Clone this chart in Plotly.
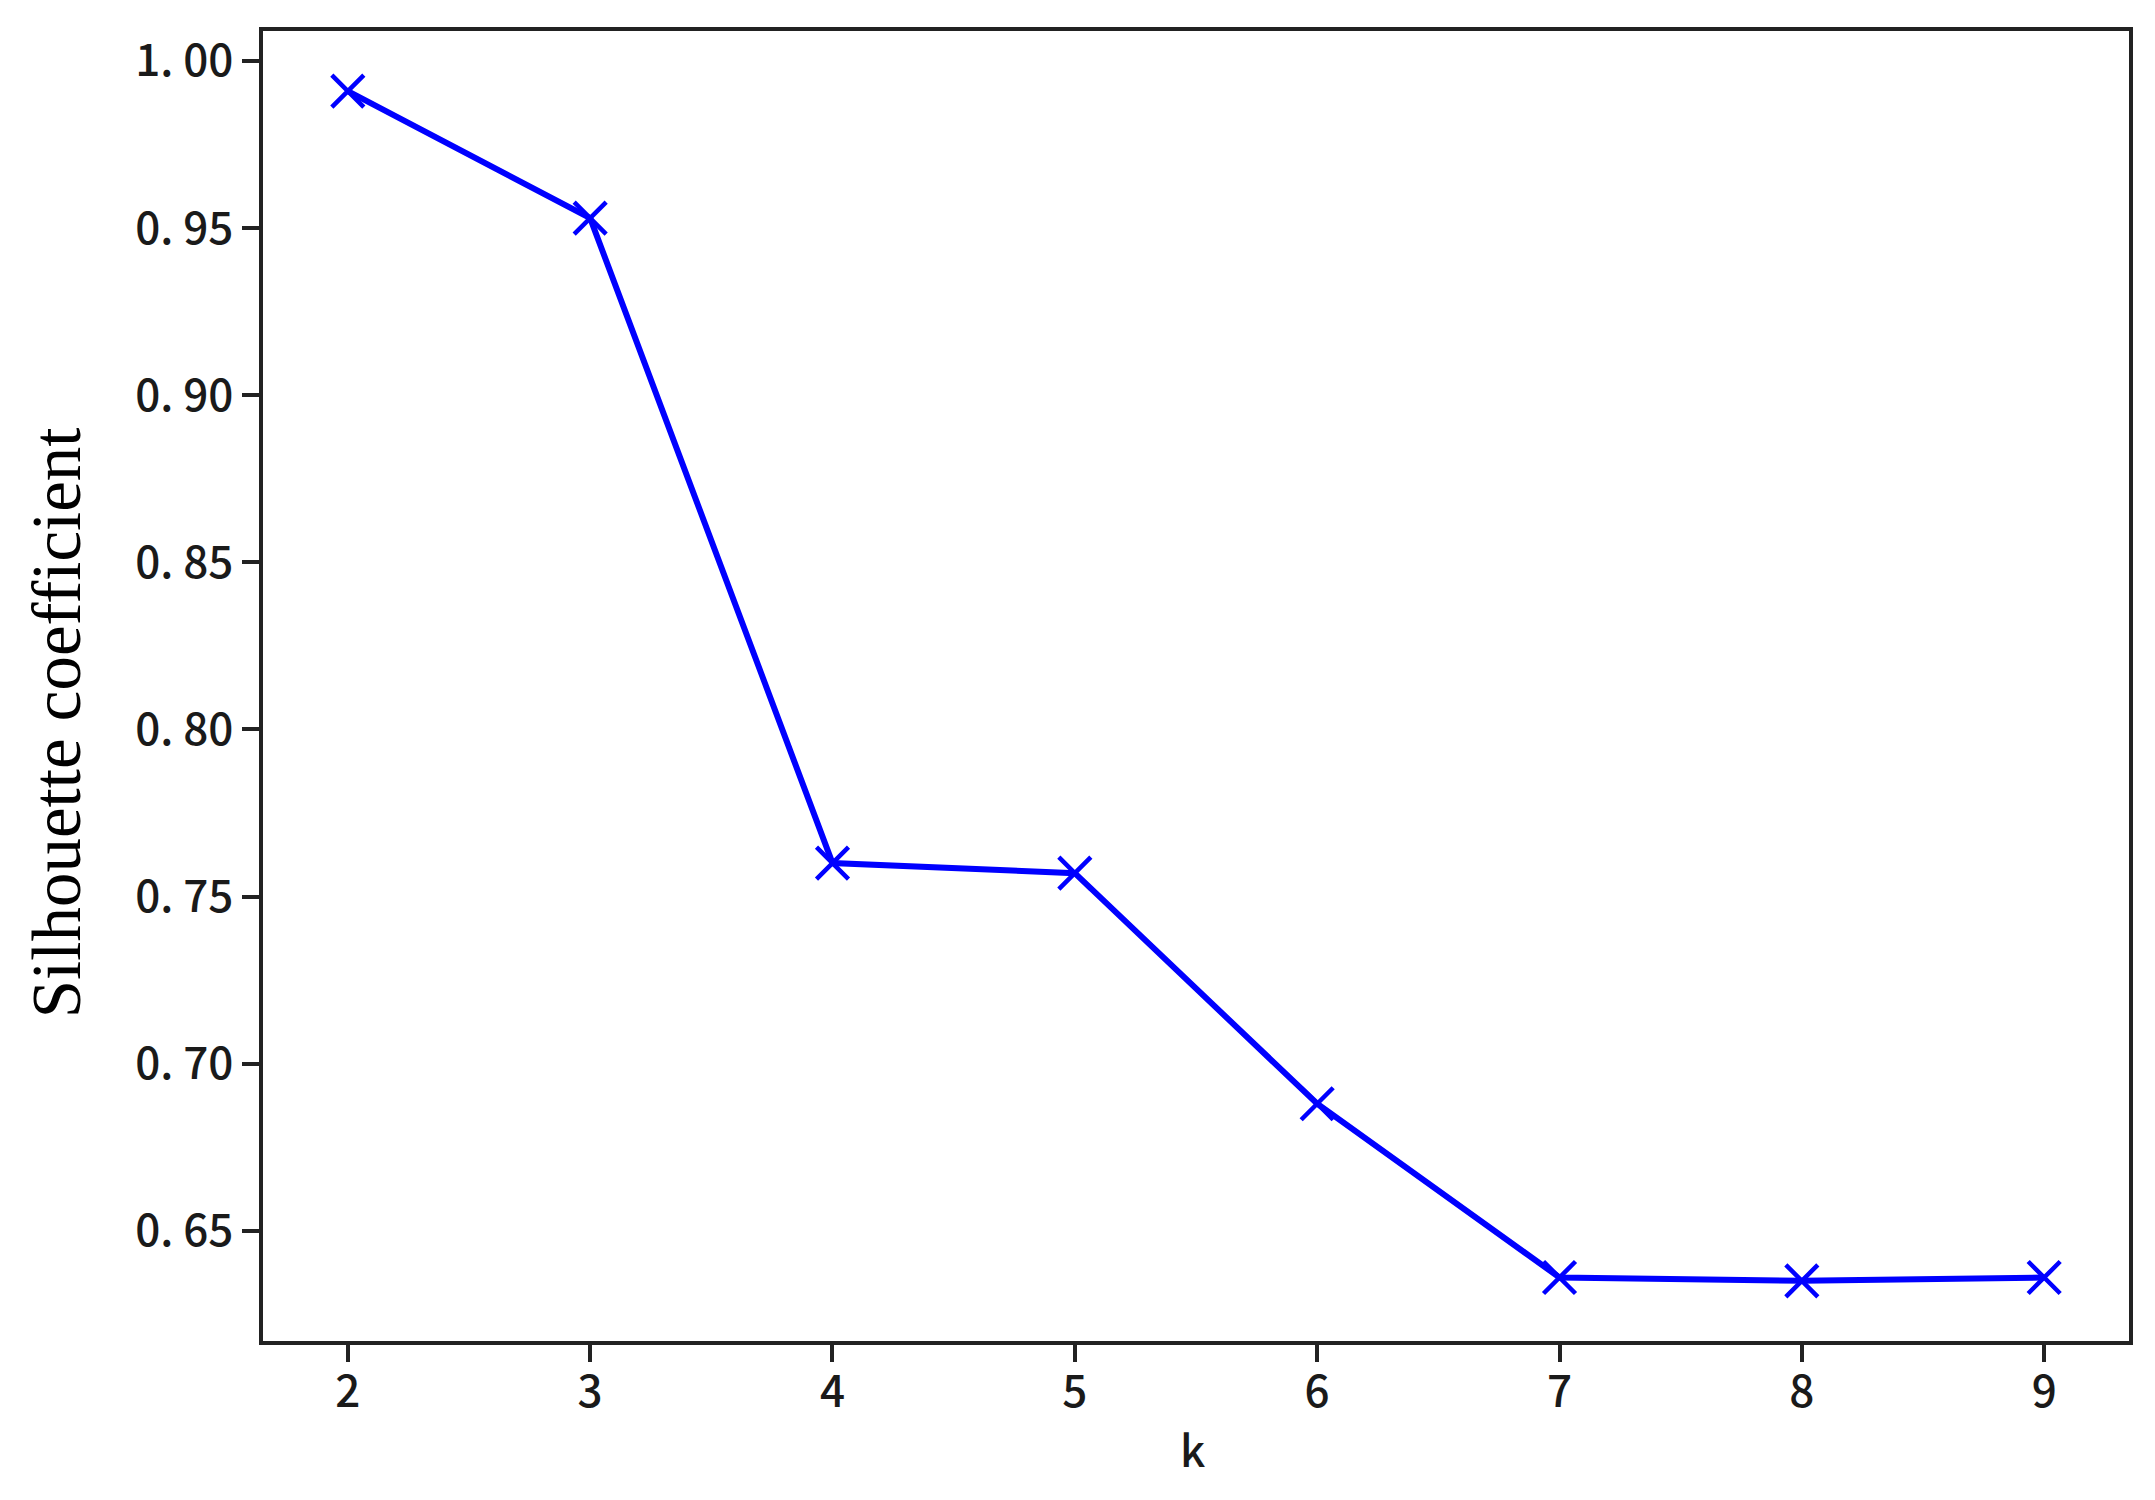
import plotly.graph_objects as go

# silhouette coefficient per number of clusters k
k_values = [2, 3, 4, 5, 6, 7, 8, 9]
silhouette = [0.991, 0.953, 0.760, 0.757, 0.688, 0.636, 0.635, 0.636]

y_tickvals = [0.65, 0.70, 0.75, 0.80, 0.85, 0.90, 0.95, 1.00]
y_ticktext = ["0. 65", "0. 70", "0. 75", "0. 80", "0. 85", "0. 90", "0. 95", "1. 00"]

tick_font = dict(family="Noto Sans CJK SC", size=44, color="#1a1a1a", weight=500)

fig = go.Figure(
    go.Scatter(
        x=k_values,
        y=silhouette,
        mode="lines+markers",
        line=dict(color="#0000ff", width=6),
        marker=dict(symbol="x-thin", size=32, line=dict(width=4.5, color="#0000ff")),
        showlegend=False,
    )
)

axis_style = dict(
    showline=True,
    linecolor="#222222",
    linewidth=3.5,
    mirror=True,
    ticks="outside",
    ticklen=17,
    tickwidth=3.5,
    tickcolor="#222222",
    showgrid=False,
    zeroline=False,
    tickfont=tick_font,
)

fig.update_layout(
    width=2155,
    height=1500,
    paper_bgcolor="white",
    plot_bgcolor="white",
    margin=dict(l=255, r=34, t=23, b=167),
    xaxis=dict(range=[1.65, 9.35], tickvals=k_values, ticklabelstandoff=-8, **axis_style),
    yaxis=dict(range=[0.6170, 1.0090], tickvals=y_tickvals, ticktext=y_ticktext, **axis_style),
    annotations=[
        dict(
            text="Silhouette coefficient",
            x=-0.1106, y=0.472, xref="paper", yref="paper",
            xanchor="center", yanchor="middle",
            textangle=-90, showarrow=False,
            font=dict(family="Liberation Serif", size=69, color="black"),
        ),
        dict(
            text="k",
            x=0.498, y=-0.082, xref="paper", yref="paper",
            xanchor="center", yanchor="middle",
            showarrow=False,
            font=tick_font,
        ),
    ],
)

fig.write_html("out.html")
